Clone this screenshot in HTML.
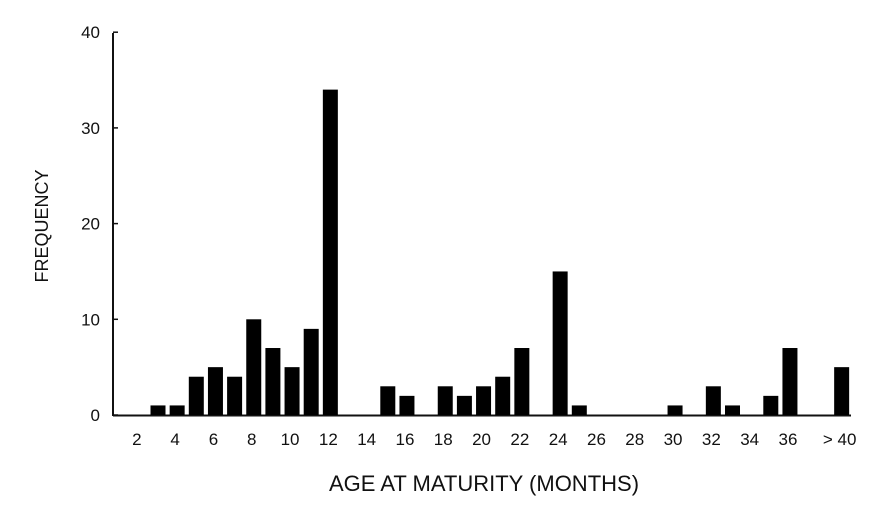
<!DOCTYPE html>
<html><head><meta charset="utf-8"><style>
body{margin:0;background:#fff;width:873px;height:510px;overflow:hidden}
text{font-family:"Liberation Sans",Arial,sans-serif;fill:#111}
</style></head><body>
<svg width="873" height="510" id="chart">
<line x1="113" y1="33" x2="113" y2="416" stroke="#111" stroke-width="2"/>
<line x1="113" y1="415.5" x2="851" y2="415.5" stroke="#111" stroke-width="2"/>
<text transform="translate(48,226) rotate(-90)" text-anchor="middle" font-size="18">FREQUENCY</text>
<text x="484" y="491" text-anchor="middle" font-size="22">AGE AT MATURITY (MONTHS)</text>
<g id="bars"></g><g id="yt"></g><g id="xt"></g>
</svg>
<script>
const months=[3,4,5,6,7,8,9,10,11,12,15,16,18,19,20,21,22,24,25,30,32,33,35,36,38.7];
const freqs=[1,1,4,5,4,10,7,5,9,34,3,2,3,2,3,4,7,15,1,1,3,1,2,7,5];
const yTicks=[0,10,20,30,40];
const xTickMonths=[2,4,6,8,10,12,14,16,18,20,22,24,26,28,30,32,34,36,38.7];
const xTickLabels=["2","4","6","8","10","12","14","16","18","20","22","24","26","28","30","32","34","36","> 40"];
const X=m=>158+(m-3)*19.15;
const Y=v=>415-v*9.57;
const NS="http://www.w3.org/2000/svg";
const bars=document.getElementById('bars'),yt=document.getElementById('yt'),xt=document.getElementById('xt');
months.forEach((m,i)=>{const r=document.createElementNS(NS,'rect');
r.setAttribute('x',X(m)-7.5);r.setAttribute('width',15);
r.setAttribute('y',Y(freqs[i]));r.setAttribute('height',415-Y(freqs[i]));r.setAttribute('fill','#000');


bars.appendChild(r);});
yTicks.forEach(v=>{const l=document.createElementNS(NS,'line');
l.setAttribute('x1',113);l.setAttribute('x2',118);l.setAttribute('y1',Y(v));l.setAttribute('y2',Y(v));l.setAttribute('stroke','#111');l.setAttribute('stroke-width','1.5');


yt.appendChild(l);
const t=document.createElementNS(NS,'text');t.setAttribute('x',100);t.setAttribute('y',Y(v)+6);t.setAttribute('text-anchor','end');t.setAttribute('font-size','17');t.textContent=v;


yt.appendChild(t);});
xTickMonths.forEach((m,i)=>{const t=document.createElementNS(NS,'text');
t.setAttribute('x',X(m)-2);t.setAttribute('y',445);t.setAttribute('text-anchor','middle');t.setAttribute('font-size','17');t.textContent=xTickLabels[i];


xt.appendChild(t);});
</script>
</body></html>
